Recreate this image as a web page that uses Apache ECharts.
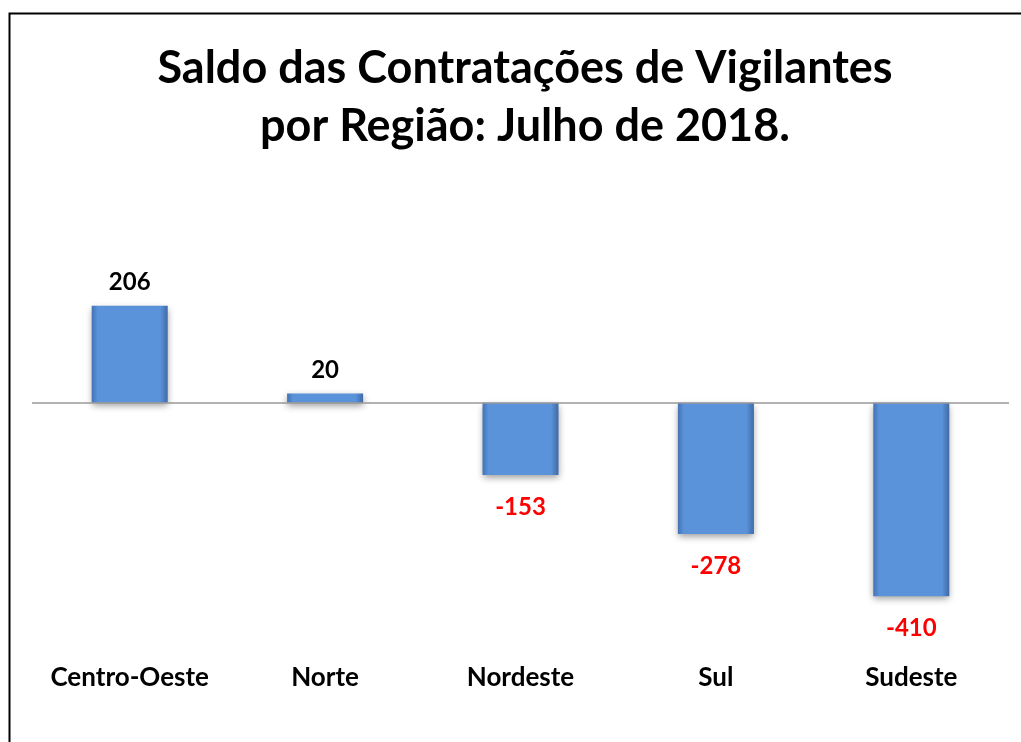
<!DOCTYPE html>
<html>
<head>
	<meta charset="utf-8">
	<title>Saldo das Contratações de Vigilantes</title>
	<script src="https://cdn.jsdelivr.net/npm/echarts@6/dist/echarts.min.js"></script>
</head>
<body style="margin:0;">
	<div id="main" style="width: 1021px;height: 742px;"></div>
	<script>
		// dados do gráfico
		var regioes = ['Centro-Oeste', 'Norte', 'Nordeste', 'Sul', 'Sudeste'];
		var saldos = [206, 20, -153, -278, -410];

		var myChart = echarts.init(document.getElementById('main'));

		// cor das barras (degradê lateral imitando o bisel)
		var corBarra = new echarts.graphic.LinearGradient(0, 0, 1, 0, [
			{offset: 0, color: '#4272b4'},
			{offset: 0.08, color: '#5b93da'},
			{offset: 0.9, color: '#5b93da'},
			{offset: 1, color: '#3f6aa6'}
		]);

		var dados = saldos.map(function (v) {
			var neg = v < 0;
			return {
				value: v,
				label: {
					position: neg ? 'bottom' : 'top',
					distance: neg ? 20 : 11,
					color: neg ? '#ff0000' : '#000000'
				}
			};
		});

		var option = {
			backgroundColor: '#ffffff',
			textStyle: {fontFamily: 'Lato'},
			title: {
				text: 'Saldo das Contratações de Vigilantes\npor Região: Julho de 2018.',
				left: 520,
				top: 34,
				textAlign: 'center',
				textStyle: {
					fontSize: 45,
					fontWeight: 'bold',
					lineHeight: 58,
					color: '#000',
					fontFamily: 'Lato'
				}
			},
			graphic: [{
				type: 'rect',
				shape: {x: 9.5, y: 13.5, width: 1030, height: 760},
				style: {fill: null, stroke: '#000', lineWidth: 2}
			}],
			grid: {left: 32, right: 12, top: 285, bottom: 127},
			xAxis: {
				type: 'category',
				data: regioes,
				axisLine: {show: false},
				axisTick: {show: false},
				axisLabel: {
					interval: 0,
					margin: 50,
					fontSize: 26,
					fontWeight: 'bold',
					color: '#000'
				}
			},
			yAxis: {
				type: 'value',
				min: -450,
				max: 250,
				show: false
			},
			series: [{
				type: 'bar',
				data: dados,
				barWidth: 76,
				itemStyle: {
					color: corBarra,
					shadowColor: 'rgba(0,0,0,0.4)',
					shadowBlur: 7,
					shadowOffsetY: 3
				},
				label: {
					show: true,
					fontSize: 24,
					fontWeight: 'bold'
				},
				markLine: {
					silent: true,
					symbol: 'none',
					label: {show: false},
					lineStyle: {color: '#999', type: 'solid', width: 1.5},
					data: [{yAxis: 0}]
				}
			}]
		};

		myChart.setOption(option);
	</script>
</body>
</html>
